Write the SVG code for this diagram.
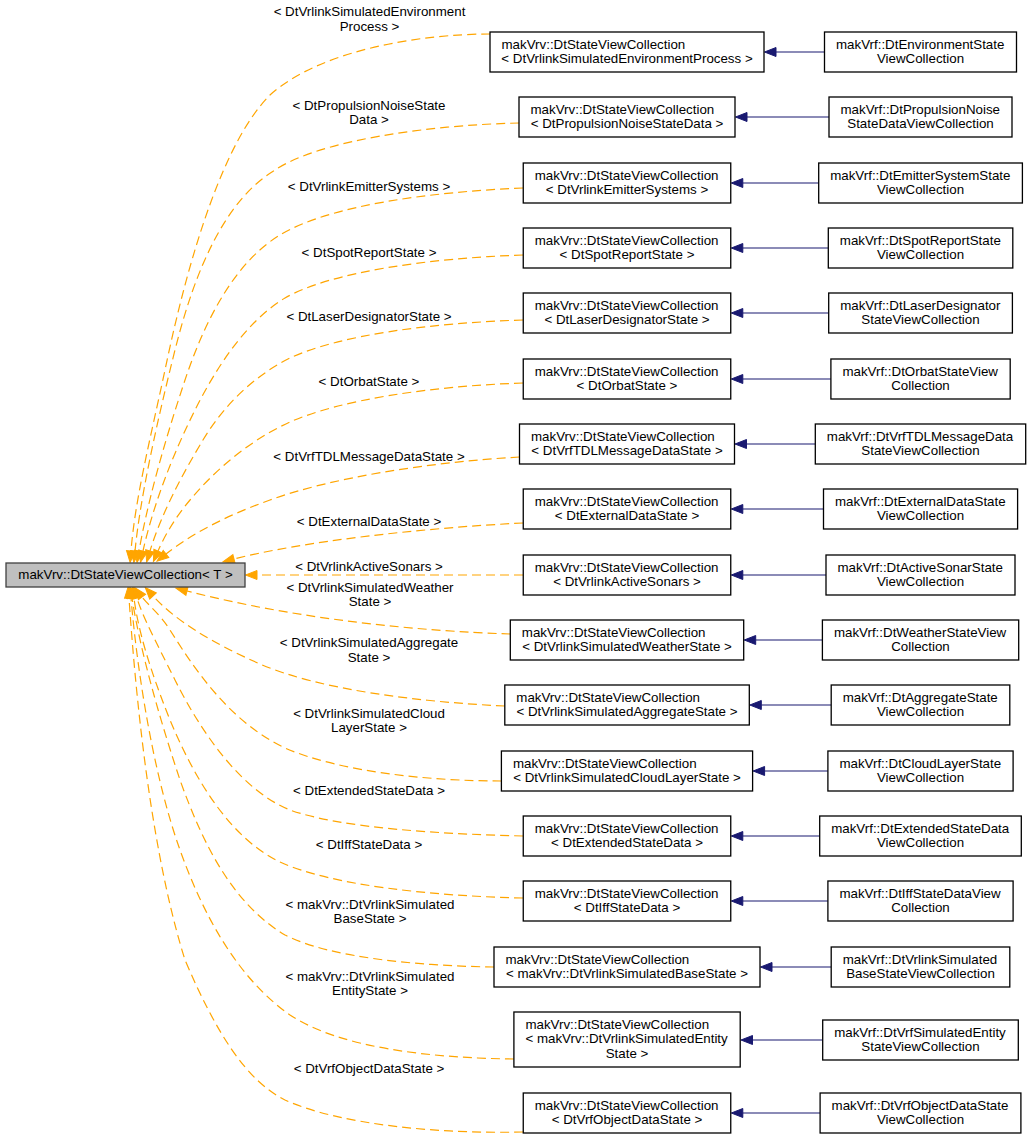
<svg xmlns="http://www.w3.org/2000/svg" width="1029" height="1139" viewBox="0 0 1029 1139">
<style>
text{font-family:"Liberation Sans",Arial,Helvetica,sans-serif;font-size:13.33px;fill:#000}
.m{text-anchor:middle}
.n rect{fill:#fff;stroke:#000;stroke-width:1.3}
#main rect{fill:#bfbfbf;stroke:#404040;stroke-width:1.3}
.e{fill:none;stroke:#ffa500;stroke-width:1.2;stroke-dasharray:9,5;marker-end:url(#ao)}
.b{fill:none;stroke:#191970;stroke-width:1.2;marker-end:url(#ab)}
</style>
<defs>
<marker id="ao" markerUnits="userSpaceOnUse" viewBox="0 0 14 12" markerWidth="14" markerHeight="12" refX="1" refY="6" orient="auto"><path d="M1,1.5 L12.5,6 L1,10.5 z" fill="#ffa500" stroke="#ffa500" stroke-width="1"/></marker>
<marker id="ab" markerUnits="userSpaceOnUse" viewBox="0 0 14 12" markerWidth="14" markerHeight="12" refX="1" refY="6" orient="auto"><path d="M1,1.5 L12.5,6 L1,10.5 z" fill="#191970" stroke="#191970" stroke-width="1"/></marker>
</defs>
<rect width="1029" height="1139" fill="#fff"/>
<g id="connectors">
<path class="e" d="M490,34 C420,34 320,50 270,95 C225,140 190,250 165,370 C150,440 135,500 131,551"/>
<path class="e" d="M519,123 C430,125 320,140 275,170 C225,200 195,270 175,350 C155,430 140,500 135,551"/>
<path class="e" d="M523,188 C430,192 330,205 280,235 C235,262 205,320 185,380 C165,440 148,500 139,551"/>
<path class="e" d="M523,255 C430,258 330,272 285,298 C245,322 215,370 195,410 C170,460 152,510 143,551"/>
<path class="e" d="M523,320 C430,323 340,335 290,358 C250,378 220,410 200,445 C178,482 160,518 150,551"/>
<path class="e" d="M523,383 C430,386 340,400 290,422 C250,440 215,470 190,500 C175,518 165,535 158,551"/>
<path class="e" d="M519.5,457 C430,462 330,478 270,500 C225,516 190,535 166,554"/>
<path class="e" d="M523,523 C420,528 300,542 234,559"/>
<path class="e" d="M523,575 L257,575"/>
<path class="e" d="M510.3,634 C420,631 300,620 187,591"/>
<path class="e" d="M504.8,706 C420,702 320,690 260,664 C210,642 175,620 153,596"/>
<path class="e" d="M501.4,781 C430,781 340,772 285,748 C230,722 195,670 170,630 C160,614 148,605 142,597"/>
<path class="e" d="M523,836 C440,834 340,828 290,810 C240,790 200,730 175,680 C155,640 142,615 137,598"/>
<path class="e" d="M523,898 C430,896 330,885 280,862 C230,838 195,780 170,720 C150,670 138,630 134,598"/>
<path class="e" d="M494,967 C420,966 330,958 285,935 C235,905 205,850 180,780 C160,720 140,650 132,598"/>
<path class="e" d="M513.9,1059 C430,1058 340,1048 290,1015 C240,980 205,920 180,850 C155,780 138,680 131,598"/>
<path class="e" d="M523,1132 C440,1134 340,1125 285,1100 C245,1080 215,1030 185,960 C160,880 140,760 129,598"/>
<path class="b" d="M824.5,52 L776,52"/>
<path class="b" d="M829,117 L747,117"/>
<path class="b" d="M818.7,183 L742.8,183"/>
<path class="b" d="M828.3,248 L742.8,248"/>
<path class="b" d="M828.7,313 L742.8,313"/>
<path class="b" d="M830.9,379 L742.8,379"/>
<path class="b" d="M815.3,444 L746.5,444"/>
<path class="b" d="M823.5,509 L742.8,509"/>
<path class="b" d="M826,575 L742.8,575"/>
<path class="b" d="M822.4,640 L755.7,640"/>
<path class="b" d="M831.2,705 L761.3,705"/>
<path class="b" d="M827.9,771 L764.6,771"/>
<path class="b" d="M819.7,836 L742.8,836"/>
<path class="b" d="M827.9,901 L742.8,901"/>
<path class="b" d="M831.2,967 L772,967"/>
<path class="b" d="M822.7,1040 L752.5,1040"/>
<path class="b" d="M820.1,1113 L742.8,1113"/>
</g>
<g id="labels">
<text class="m" x="369.5" y="16">&lt; DtVrlinkSimulatedEnvironment</text>
<text class="m" x="369.5" y="30.5">Process &gt;</text>
<text class="m" x="369" y="109.5">&lt; DtPropulsionNoiseState</text>
<text class="m" x="369" y="124">Data &gt;</text>
<text class="m" x="369" y="191">&lt; DtVrlinkEmitterSystems &gt;</text>
<text class="m" x="369" y="257">&lt; DtSpotReportState &gt;</text>
<text class="m" x="369" y="321">&lt; DtLaserDesignatorState &gt;</text>
<text class="m" x="369" y="385.5">&lt; DtOrbatState &gt;</text>
<text class="m" x="369" y="461">&lt; DtVrfTDLMessageDataState &gt;</text>
<text class="m" x="369" y="525.5">&lt; DtExternalDataState &gt;</text>
<text class="m" x="369" y="571">&lt; DtVrlinkActiveSonars &gt;</text>
<text class="m" x="370" y="591.5">&lt; DtVrlinkSimulatedWeather</text>
<text class="m" x="370" y="605.5">State &gt;</text>
<text class="m" x="369" y="647">&lt; DtVrlinkSimulatedAggregate</text>
<text class="m" x="369" y="661.5">State &gt;</text>
<text class="m" x="369" y="717.5">&lt; DtVrlinkSimulatedCloud</text>
<text class="m" x="369" y="732">LayerState &gt;</text>
<text class="m" x="369" y="795">&lt; DtExtendedStateData &gt;</text>
<text class="m" x="369" y="849">&lt; DtIffStateData &gt;</text>
<text class="m" x="370" y="908.5">&lt; makVrv::DtVrlinkSimulated</text>
<text class="m" x="370" y="923">BaseState &gt;</text>
<text class="m" x="370" y="980.5">&lt; makVrv::DtVrlinkSimulated</text>
<text class="m" x="370" y="995">EntityState &gt;</text>
<text class="m" x="369" y="1072.5">&lt; DtVrfObjectDataState &gt;</text>
</g>
<g id="main"><rect x="6" y="563" width="239" height="24"/><text class="m" x="125.5" y="579">makVrv::DtStateViewCollection&lt; T &gt;</text></g>
<g id="m1" class="n"><rect x="490" y="32" width="274" height="40"/><text x="501.5" y="48.5">makVrv::DtStateViewCollection</text><text class="m" x="627" y="63">&lt; DtVrlinkSimulatedEnvironmentProcess &gt;</text></g>
<g id="m2" class="n"><rect x="519" y="97" width="216" height="40"/><text x="530.5" y="113.5">makVrv::DtStateViewCollection</text><text class="m" x="627" y="128">&lt; DtPropulsionNoiseStateData &gt;</text></g>
<g id="m3" class="n"><rect x="523.25" y="163" width="207.5" height="40"/><text x="534.75" y="179.5">makVrv::DtStateViewCollection</text><text class="m" x="627" y="194">&lt; DtVrlinkEmitterSystems &gt;</text></g>
<g id="m4" class="n"><rect x="523.25" y="228" width="207.5" height="40"/><text x="534.75" y="244.5">makVrv::DtStateViewCollection</text><text class="m" x="627" y="259">&lt; DtSpotReportState &gt;</text></g>
<g id="m5" class="n"><rect x="523.25" y="293" width="207.5" height="40"/><text x="534.75" y="309.5">makVrv::DtStateViewCollection</text><text class="m" x="627" y="324">&lt; DtLaserDesignatorState &gt;</text></g>
<g id="m6" class="n"><rect x="523.25" y="359" width="207.5" height="40"/><text x="534.75" y="375.5">makVrv::DtStateViewCollection</text><text class="m" x="627" y="390">&lt; DtOrbatState &gt;</text></g>
<g id="m7" class="n"><rect x="519.5" y="424" width="215" height="40"/><text x="531" y="440.5">makVrv::DtStateViewCollection</text><text class="m" x="627" y="455">&lt; DtVrfTDLMessageDataState &gt;</text></g>
<g id="m8" class="n"><rect x="523.25" y="489" width="207.5" height="40"/><text x="534.75" y="505.5">makVrv::DtStateViewCollection</text><text class="m" x="627" y="520">&lt; DtExternalDataState &gt;</text></g>
<g id="m9" class="n"><rect x="523.25" y="555" width="207.5" height="40"/><text x="534.75" y="571.5">makVrv::DtStateViewCollection</text><text class="m" x="627" y="586">&lt; DtVrlinkActiveSonars &gt;</text></g>
<g id="m10" class="n"><rect x="510.3" y="620" width="233.4" height="40"/><text x="521.8" y="636.5">makVrv::DtStateViewCollection</text><text class="m" x="627" y="651">&lt; DtVrlinkSimulatedWeatherState &gt;</text></g>
<g id="m11" class="n"><rect x="504.8" y="685" width="244.5" height="40"/><text x="516.3" y="701.5">makVrv::DtStateViewCollection</text><text class="m" x="627" y="716">&lt; DtVrlinkSimulatedAggregateState &gt;</text></g>
<g id="m12" class="n"><rect x="501.4" y="751" width="251.2" height="40"/><text x="512.9" y="767.5">makVrv::DtStateViewCollection</text><text class="m" x="627" y="782">&lt; DtVrlinkSimulatedCloudLayerState &gt;</text></g>
<g id="m13" class="n"><rect x="523.25" y="816" width="207.5" height="40"/><text x="534.75" y="832.5">makVrv::DtStateViewCollection</text><text class="m" x="627" y="847">&lt; DtExtendedStateData &gt;</text></g>
<g id="m14" class="n"><rect x="523.25" y="881" width="207.5" height="40"/><text x="534.75" y="897.5">makVrv::DtStateViewCollection</text><text class="m" x="627" y="912">&lt; DtIffStateData &gt;</text></g>
<g id="m15" class="n"><rect x="494" y="947" width="266" height="40"/><text x="505.5" y="963.5">makVrv::DtStateViewCollection</text><text class="m" x="627" y="978">&lt; makVrv::DtVrlinkSimulatedBaseState &gt;</text></g>
<g id="m16" class="n"><rect x="513.9" y="1012" width="226.3" height="55"/><text x="525.4" y="1028.5">makVrv::DtStateViewCollection</text><text x="525.4" y="1043">&lt; makVrv::DtVrlinkSimulatedEntity</text><text class="m" x="627" y="1057.5">State &gt;</text></g>
<g id="m17" class="n"><rect x="523.25" y="1093" width="207.5" height="40"/><text x="534.75" y="1109.5">makVrv::DtStateViewCollection</text><text class="m" x="627" y="1124">&lt; DtVrfObjectDataState &gt;</text></g>
<g id="r1" class="n"><rect x="824.5" y="32" width="192" height="40"/><text x="836" y="48.5">makVrf::DtEnvironmentState</text><text class="m" x="920.5" y="63">ViewCollection</text></g>
<g id="r2" class="n"><rect x="829" y="97" width="183" height="40"/><text x="840.5" y="113.5">makVrf::DtPropulsionNoise</text><text class="m" x="920.5" y="128">StateDataViewCollection</text></g>
<g id="r3" class="n"><rect x="818.7" y="163" width="203.7" height="40"/><text x="830.2" y="179.5">makVrf::DtEmitterSystemState</text><text class="m" x="920.5" y="194">ViewCollection</text></g>
<g id="r4" class="n"><rect x="828.3" y="228" width="184.5" height="40"/><text x="839.8" y="244.5">makVrf::DtSpotReportState</text><text class="m" x="920.5" y="259">ViewCollection</text></g>
<g id="r5" class="n"><rect x="828.7" y="293" width="183.7" height="40"/><text x="840.2" y="309.5">makVrf::DtLaserDesignator</text><text class="m" x="920.5" y="324">StateViewCollection</text></g>
<g id="r6" class="n"><rect x="830.9" y="359" width="179.3" height="40"/><text x="842.4" y="375.5">makVrf::DtOrbatStateView</text><text class="m" x="920.5" y="390">Collection</text></g>
<g id="r7" class="n"><rect x="815.3" y="424" width="210.4" height="40"/><text x="826.8" y="440.5">makVrf::DtVrfTDLMessageData</text><text class="m" x="920.5" y="455">StateViewCollection</text></g>
<g id="r8" class="n"><rect x="823.5" y="489" width="194.1" height="40"/><text x="835" y="505.5">makVrf::DtExternalDataState</text><text class="m" x="920.5" y="520">ViewCollection</text></g>
<g id="r9" class="n"><rect x="826" y="555" width="189" height="40"/><text x="837.5" y="571.5">makVrf::DtActiveSonarState</text><text class="m" x="920.5" y="586">ViewCollection</text></g>
<g id="r10" class="n"><rect x="822.4" y="620" width="196.3" height="40"/><text x="833.9" y="636.5">makVrf::DtWeatherStateView</text><text class="m" x="920.5" y="651">Collection</text></g>
<g id="r11" class="n"><rect x="831.2" y="685" width="178.6" height="40"/><text x="842.7" y="701.5">makVrf::DtAggregateState</text><text class="m" x="920.5" y="716">ViewCollection</text></g>
<g id="r12" class="n"><rect x="827.9" y="751" width="185.2" height="40"/><text x="839.4" y="767.5">makVrf::DtCloudLayerState</text><text class="m" x="920.5" y="782">ViewCollection</text></g>
<g id="r13" class="n"><rect x="819.7" y="816" width="201.6" height="40"/><text x="831.2" y="832.5">makVrf::DtExtendedStateData</text><text class="m" x="920.5" y="847">ViewCollection</text></g>
<g id="r14" class="n"><rect x="827.9" y="881" width="185.2" height="40"/><text x="839.4" y="897.5">makVrf::DtIffStateDataView</text><text class="m" x="920.5" y="912">Collection</text></g>
<g id="r15" class="n"><rect x="831.2" y="947" width="178.6" height="40"/><text x="842.7" y="963.5">makVrf::DtVrlinkSimulated</text><text class="m" x="920.5" y="978">BaseStateViewCollection</text></g>
<g id="r16" class="n"><rect x="822.7" y="1020" width="195.6" height="40"/><text x="834.2" y="1036.5">makVrf::DtVrfSimulatedEntity</text><text class="m" x="920.5" y="1051">StateViewCollection</text></g>
<g id="r17" class="n"><rect x="820.1" y="1093" width="200.8" height="40"/><text x="831.6" y="1109.5">makVrf::DtVrfObjectDataState</text><text class="m" x="920.5" y="1124">ViewCollection</text></g>
</svg>
